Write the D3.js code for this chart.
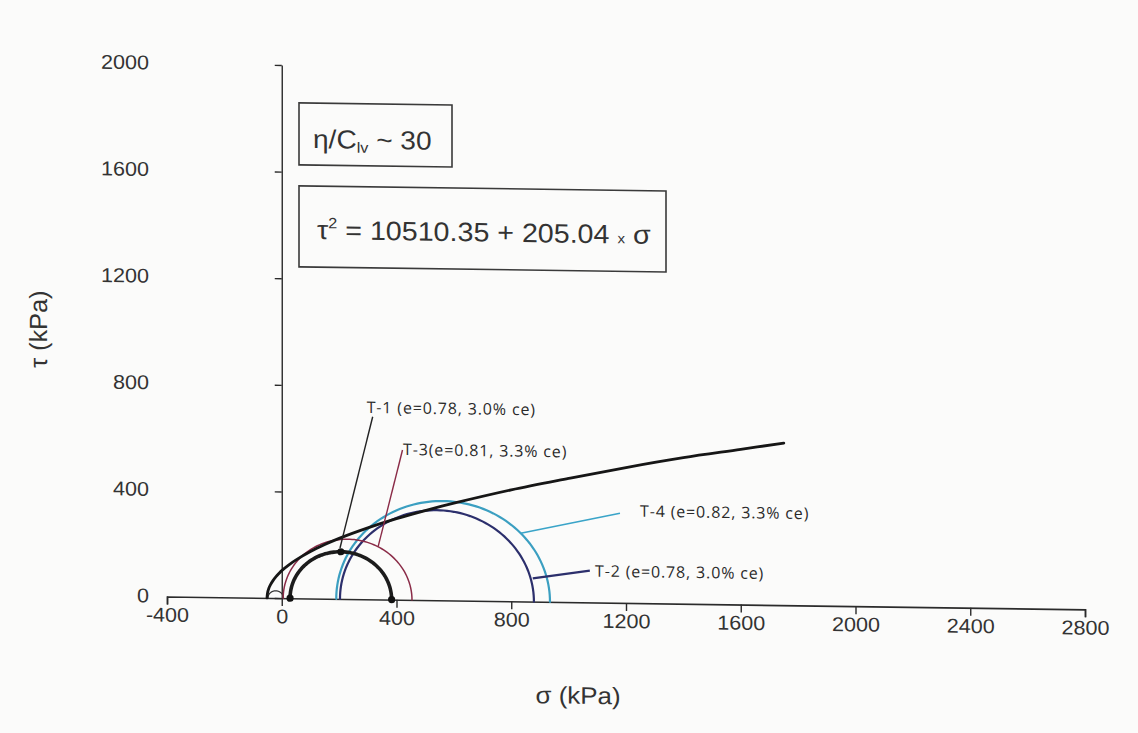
<!DOCTYPE html>
<html>
<head>
<meta charset="utf-8">
<script src="https://cdn.jsdelivr.net/npm/d3@7"></script>
<style>
  html, body { margin: 0; padding: 0; background: #fbfbfa; }
  svg { display: block; font-family: "Liberation Sans", Arial, sans-serif; }
</style>
</head>
<body>
<svg id="chart" width="1138" height="733"></svg>
<script>
// ---- axis ticks ----
const xTicks = [-400, 0, 400, 800, 1200, 1600, 2000, 2400, 2800];
const yTicks = [0, 400, 800, 1200, 1600, 2000];

// ---- Mohr circles of the four tests (kPa) ----
const testNames  = ["T-1", "T-2", "T-3", "T-4"];
const testLabels = ["T-1 (e=0.78, 3.0% ce)", "T-2 (e=0.78, 3.0% ce)",
                    "T-3(e=0.81, 3.3% ce)", "T-4 (e=0.82, 3.3% ce)"];
const sigma3 = [29, 203, 5, 190];     // minor principal stress
const sigma1 = [383, 879, 454, 935];  // major principal stress

// tensile circle near the origin
const tensionSigma3 = -48;
const tensionSigma1 = 6;

// ---- failure envelope  tau^2 = 10510.35 + 205.04 sigma ----
const envelopeSigma = [-51.3, -50, -45, -40, -30, -20, -10, 0, 25, 50, 100, 150, 200,
                       300, 400, 500, 600, 800, 1000, 1200, 1400, 1600, 1750];
const envelopeTau   = [0, 16, 36, 48, 66, 80, 92, 103, 125, 144, 176, 203, 227,
                       268, 304, 336, 365, 418, 464, 508, 548, 582, 608];

// ---- layout ----
const x = d3.scaleLinear().domain([-400, 2800]).range([167, 1085]);
const y = d3.scaleLinear().domain([0, 2000]).range([596.5, 63.4]);
const skew = 0.014;          // slight page slope of the printed figure
const stretch = 1.08;        // horizontal text proportion

const svg = d3.select("#chart");
const root = svg.append("g")
  .attr("transform", `translate(0,${-skew * 167}) skewY(${Math.atan(skew) * 180 / Math.PI})`);

const ink = "#2b2b2b";

// ---- x axis ----
const xAxis = d3.axisBottom(x).tickValues(xTicks).tickSize(8).tickSizeOuter(8)
  .tickPadding(1).tickFormat(d => String(d));
const gx = root.append("g").attr("transform", `translate(0,${y(0)})`).call(xAxis);
gx.select(".domain").attr("stroke", ink).attr("stroke-width", 1.6);
gx.selectAll(".tick line").attr("stroke", ink).attr("stroke-width", 1.4);
gx.selectAll(".tick text")
  .attr("fill", "#333").attr("font-size", 20)
  .attr("font-family", "'Liberation Sans', Arial, sans-serif")
  .attr("y", 11)
  .attr("transform", `scale(${stretch},1)`);

// ---- y axis at sigma = 0 ----
const yAxis = d3.axisLeft(y).tickValues(yTicks).tickSize(7).tickSizeOuter(0).tickFormat("");
const gy = root.append("g").attr("transform", `translate(${x(0)},0)`).call(yAxis);
gy.select(".domain").attr("stroke", ink).attr("stroke-width", 1.4);
gy.selectAll(".tick line").attr("stroke", ink).attr("stroke-width", 1.4);

// y tick labels, set out to the left of the plot
root.append("g").selectAll("g.ylab").data(yTicks).join("g")
  .attr("class", "ylab")
  .attr("transform", d => `translate(149,${y(d) - 1}) scale(${stretch},1)`)
  .append("text")
  .attr("text-anchor", "end").attr("dy", "0.36em")
  .attr("font-size", 20).attr("fill", "#333")
  .text(d => d);

// axis titles
root.append("g").attr("transform", `translate(578,698) scale(${stretch},1)`)
  .append("text").attr("text-anchor", "middle").attr("font-size", 24).attr("fill", "#333")
  .text("σ (kPa)");
root.append("g").attr("transform", `translate(47,331) rotate(-90)`)
  .append("text").attr("text-anchor", "middle").attr("font-size", 23).attr("fill", "#333")
  .attr("transform", `scale(1.1,${stretch})`)
  .text("τ (kPa)");

// ---- annotation boxes ----
const box1 = root.append("g");
box1.append("rect").attr("x", 299).attr("y", 101).attr("width", 153).attr("height", 62)
  .attr("fill", "none").attr("stroke", "#3a3a3a").attr("stroke-width", 1.6);
const t1 = box1.append("g").attr("transform", `translate(313,146) scale(${stretch},1)`)
  .append("text").attr("font-size", 26).attr("fill", "#333");
t1.append("tspan").text("η/C");
t1.append("tspan").attr("font-size", 15).attr("dy", 4).text("lv");
t1.append("tspan").attr("dy", -4).text(" ~ 30");

const box2 = root.append("g");
box2.append("rect").attr("x", 299).attr("y", 184).attr("width", 367).attr("height", 81)
  .attr("fill", "none").attr("stroke", "#3a3a3a").attr("stroke-width", 1.6);
const t2 = box2.append("g").attr("transform", `translate(317,237) scale(${stretch},1)`)
  .append("text").attr("font-size", 26.5).attr("fill", "#333");
t2.append("tspan").text("τ");
t2.append("tspan").attr("font-size", 15).attr("dy", -11).text("2");
t2.append("tspan").attr("dy", 11).text(" = 10510.35 + 205.04 ");
t2.append("tspan").attr("font-size", 14).text("x");
t2.append("tspan").text(" σ");

// ---- curves ----
const line = d3.line().x(d => x(d[0])).y(d => y(d[1]));
function mohr(s3, s1) {
  const c = (s1 + s3) / 2, r = (s1 - s3) / 2;
  return d3.range(0, 181, 2).map(a => [c + r * Math.cos(a * Math.PI / 180), r * Math.sin(a * Math.PI / 180)]);
}

const circleStyle = {
  "T-1": { color: "#1c1c1c", width: 3.6 },
  "T-2": { color: "#2c2f6c", width: 2.2 },
  "T-3": { color: "#8a2b47", width: 1.5 },
  "T-4": { color: "#3b9fc1", width: 2.2 }
};

// tensile circle
root.append("path").datum(mohr(tensionSigma3, tensionSigma1))
  .attr("d", line).attr("fill", "none").attr("stroke", "#333").attr("stroke-width", 1.2);

// draw order: T-4, T-2, T-3, T-1
[3, 1, 2, 0].forEach(i => {
  const s = circleStyle[testNames[i]];
  root.append("path").datum(mohr(sigma3[i], sigma1[i]))
    .attr("d", line).attr("fill", "none")
    .attr("stroke", s.color).attr("stroke-width", s.width)
    .attr("stroke-linecap", "round");
});

// failure envelope
const envPts = envelopeSigma.map((s, i) => [s, envelopeTau[i]]);
root.append("path").datum(envPts)
  .attr("d", d3.line().x(d => x(d[0])).y(d => y(d[1])).curve(d3.curveCatmullRom.alpha(0.5)))
  .attr("fill", "none").attr("stroke", "#161616").attr("stroke-width", 2.8)
  .attr("stroke-linecap", "round");

// markers on the T-1 circle
{
  const c = (sigma1[0] + sigma3[0]) / 2, r = (sigma1[0] - sigma3[0]) / 2;
  root.append("g").selectAll("circle").data([[sigma3[0], 0], [sigma1[0], 0], [c, r]]).join("circle")
    .attr("cx", d => x(d[0])).attr("cy", d => y(d[1])).attr("r", 3.6).attr("fill", "#111");
}

// ---- call-out labels with leaders (positions in kPa) ----
const callouts = [
  { i: 0, at: [296, 699], from: [317, 685], to: [203, 191], color: "#222", w: 1.4 },
  { i: 2, at: [423, 543], from: [421, 562], to: [336, 198], color: "#8a2b47", w: 1.4 },
  { i: 3, at: [1249, 324], from: [1179, 336], to: [833, 256], color: "#3aa4c8", w: 1.7 },
  { i: 1, at: [1092, 97], from: [1074, 119], to: [875, 87], color: "#2c2f6c", w: 2.2 }
];
callouts.forEach(c => {
  root.append("line")
    .attr("x1", x(c.from[0])).attr("y1", y(c.from[1]))
    .attr("x2", x(c.to[0])).attr("y2", y(c.to[1]))
    .attr("stroke", c.color).attr("stroke-width", c.w);
  root.append("text")
    .attr("x", x(c.at[0])).attr("y", y(c.at[1]))
    .attr("font-family", "'Open Sans', 'Noto Sans', sans-serif")
    .attr("font-size", 16).attr("letter-spacing", 0.85).attr("fill", "#2a2a2a")
    .text(testLabels[c.i]);
});
</script>
</body>
</html>
